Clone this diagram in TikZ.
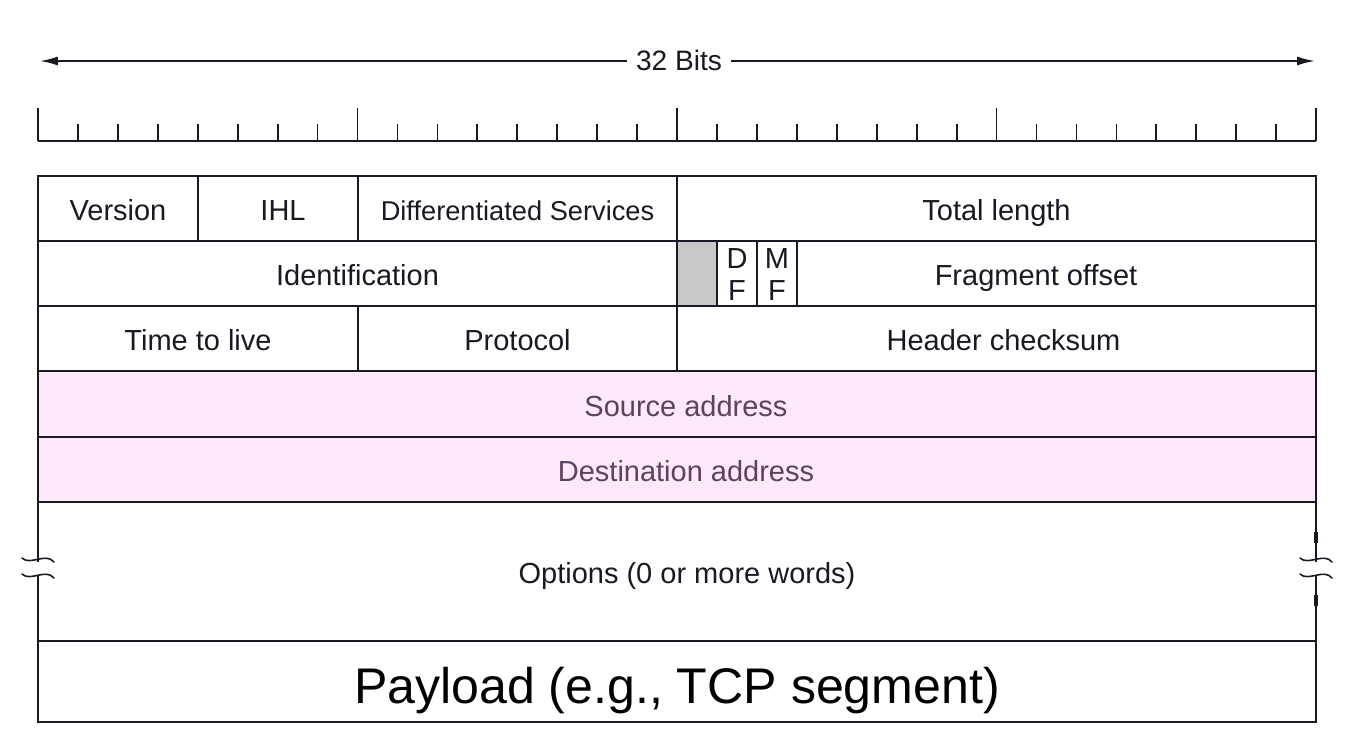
\documentclass[tikz,border=0pt]{standalone}
\usepackage{fontspec}
\setmainfont{Liberation Sans}
\usetikzlibrary{arrows.meta}
\definecolor{addrpink}{RGB}{253,233,250}
\definecolor{addrtext}{RGB}{95,65,95}
\definecolor{rsvdgray}{RGB}{200,200,200}
\definecolor{inkdark}{RGB}{25,25,35}
\tikzset{
    fieldline/.style={draw=inkdark,line width=1pt},
    fieldtext/.style={font=\fontsize{16.5}{20}\selectfont,text=inkdark,inner sep=0pt,
        text height=11.8pt,text depth=0pt},
    ticks/.style={draw=inkdark,line width=1pt},
    breakmark/.style={draw=inkdark,line width=0.9pt,line cap=round}
}
\newcommand{\field}[6]{
    % #1,#2 = top left, #3,#4 = bottom right, #5 = name, #6 = text
    \draw[fieldline] (#1,#2) rectangle (#3,#4);
    \node[fieldtext] (#5) at ({(#1+#3)/2},{(#2+#4)/2+1.5}) {#6};
}

\begin{document}
\begin{tikzpicture}[x=0.02cm,y=-0.02cm]
\useasboundingbox (0,0) rectangle (1358,746);

% Width arrow
\coordinate (wl) at (40,61);
\coordinate (wr) at (1315,61);
\draw[inkdark,line width=1pt,{Latex[length=3.6mm,width=1.8mm]}-{Latex[length=3.6mm,width=1.8mm]}] (wl) -- (wr);
\node[fill=white,font=\fontsize{16}{19}\selectfont,text=inkdark,inner xsep=5pt] (bits) at (679,60) {32 Bits};

% Bit ruler
\draw[ticks] (38,141) -- (1316,141);
\foreach \i in {0,...,32}{
    \pgfmathsetmacro{\tx}{38+\i*39.94}
    \pgfmathtruncatemacro{\major}{mod(\i,8)==0}
    \ifnum\major=1
        \draw[ticks] (\tx,141) -- (\tx,108);
    \else
        \draw[ticks] (\tx,141) -- (\tx,124);
    \fi
}

% Row 1
\field{38}{176}{198}{241}{version}{Version}
\field{198}{176}{358}{241}{ihl}{\hspace*{0.2cm}IHL}
\field{358}{176}{677}{241}{dserv}{\fontsize{15.5}{19}\selectfont Differentiated Services}
\field{677}{176}{1316}{241}{totlen}{Total length}

% Row 2
\field{38}{241}{677}{306}{ident}{Identification}
\fill[rsvdgray] (677,241) rectangle (717,306);
\field{677}{241}{717}{306}{rsvd}{}
\field{717}{241}{757}{306}{df}{}
\field{757}{241}{797}{306}{mf}{}
\node[fieldtext] (dfd) at (737,258) {D};
\node[fieldtext] (dff) at (737,290) {F};
\node[fieldtext] (mfm) at (777,258) {M};
\node[fieldtext] (mff) at (777,290) {F};
\draw[fieldline] (797,241) rectangle (1316,306);
\node[fieldtext] (fragoff) at (1036,275) {Fragment offset};

% Row 3
\field{38}{306}{358}{371}{ttl}{Time to live}
\field{358}{306}{677}{371}{proto}{Protocol}
\field{677}{306}{1316}{371}{hcsum}{\hspace*{0.28cm}Header checksum}

% Addresses
\fill[addrpink] (38,371) rectangle (1316,502);
\draw[fieldline] (38,371) rectangle (1316,437);
\draw[fieldline] (38,437) rectangle (1316,502);
\node[fieldtext,text=addrtext] (srcaddr) at (686,406) {Source address};
\node[fieldtext,text=addrtext] (dstaddr) at (686,471) {Destination address};

% Options (variable length, broken sides)
\draw[fieldline] (38,562) -- (38,502) -- (1316,502) -- (1316,562);
\draw[fieldline] (38,575) -- (38,641) -- (1316,641) -- (1316,575);
\node[fieldtext] (options) at (687,573) {Options (0 or more words)};
\foreach \bx in {38,1316}{
    \draw[breakmark] (\bx-16,558) .. controls (\bx-8,566) and (\bx+8,552) .. (\bx+16,562);
    \draw[breakmark] (\bx-16,574) .. controls (\bx-8,582) and (\bx+8,568) .. (\bx+16,578);
}
\draw[inkdark,line width=2.5pt] (1316,532) -- (1316,543);
\draw[inkdark,line width=2.5pt] (1316,595) -- (1316,606);

% Payload
\draw[fieldline] (38,641) rectangle (1316,722);
\node[font=\fontsize{28.5}{33}\selectfont,inner sep=0pt,text height=20.4pt,text depth=0pt] (payload) at (677,686) {Payload (e.g., TCP segment)};

\end{tikzpicture}
\end{document}
